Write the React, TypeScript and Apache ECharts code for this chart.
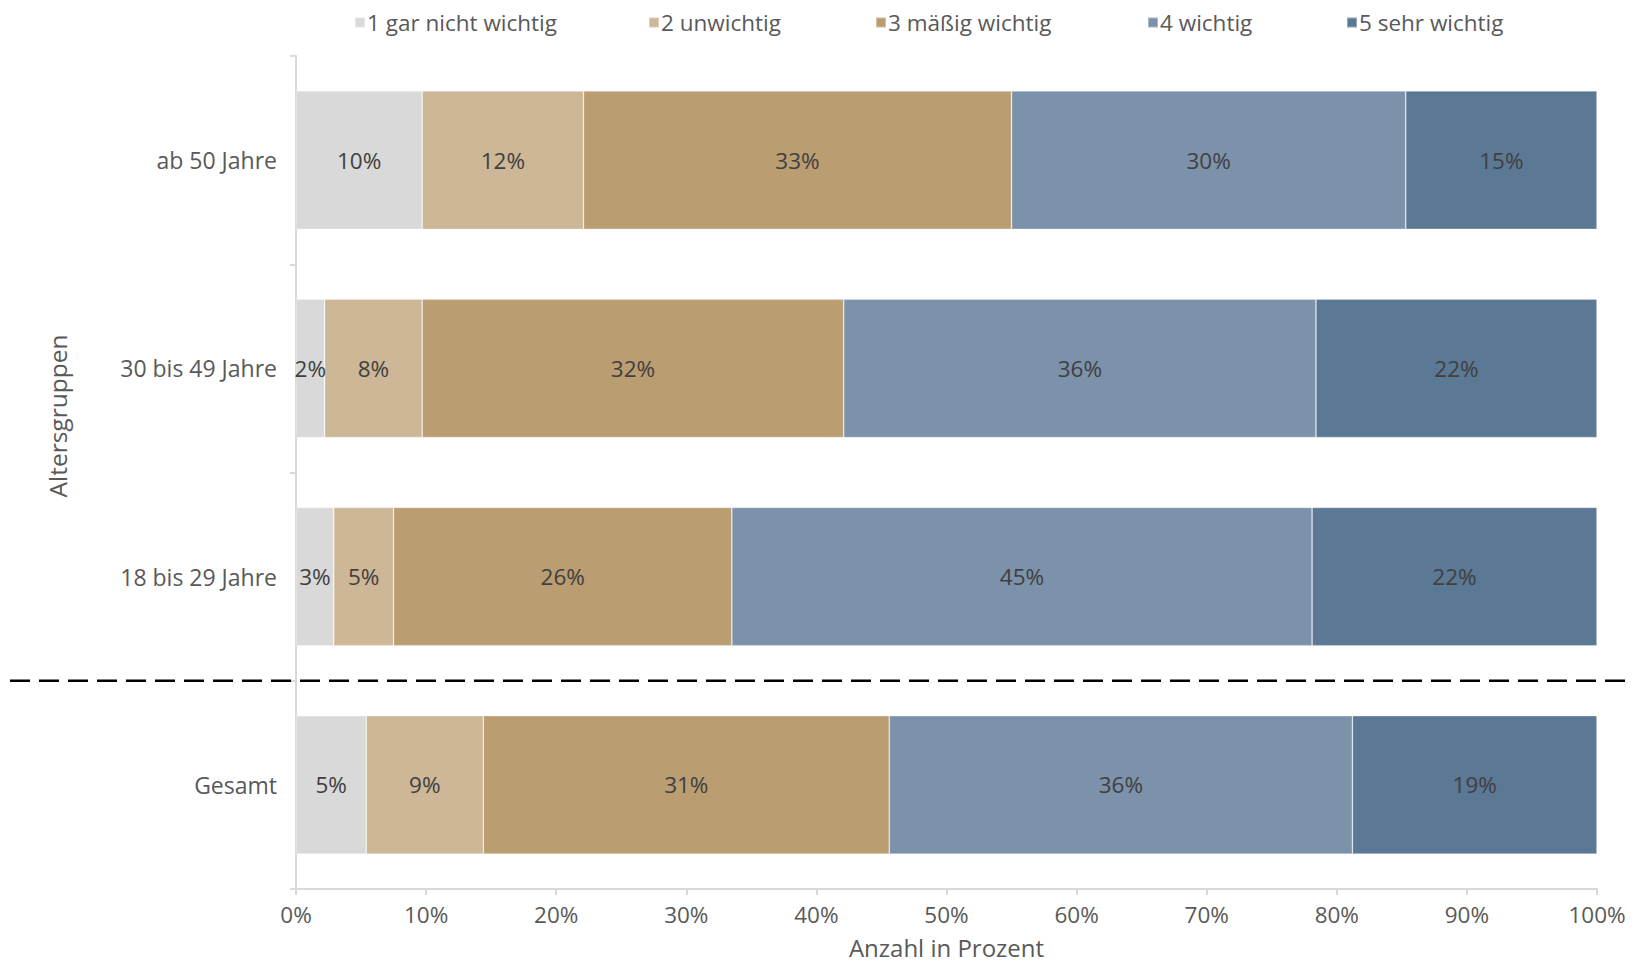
import React, { useEffect, useRef } from "react";
import * as echarts from "echarts";

const categories = ["Gesamt", "18 bis 29 Jahre", "30 bis 49 Jahre", "ab 50 Jahre"];
const seriesNames = ["1 gar nicht wichtig", "2 unwichtig", "3 mäßig wichtig", "4 wichtig", "5 sehr wichtig"];
const s1 = [5.4, 2.9, 2.2, 9.7];
const s2 = [9.0, 4.6, 7.5, 12.4];
const s3 = [31.2, 26.0, 32.4, 32.9];
const s4 = [35.6, 44.6, 36.3, 30.3];
const s5 = [18.8, 21.9, 21.6, 14.7];
const seriesValues = [s1, s2, s3, s4, s5];
const colors = ["#d9d9d9", "#cdb796", "#bb9d72", "#7c92ab", "#5b7894"];
const legendLeft = [354, 648, 875, 1147, 1346];

const FONT = "'Open Sans', 'Noto Sans', sans-serif";

export default function App() {
  const ref = useRef<HTMLDivElement>(null);
  useEffect(() => {
    document.body.style.margin = "0";
    const chart = echarts.init(ref.current!, null, { renderer: "svg" });
    const option: any = {
      animation: false,
      backgroundColor: "#ffffff",
      textStyle: { fontFamily: FONT },
      legend: seriesNames.map((n, i) => ({
        data: [n],
        left: legendLeft[i],
        top: 11,
        padding: 0,
        icon: "rect",
        itemWidth: 10,
        itemHeight: 10,
        itemGap: 4,
        selectedMode: false,
        textStyle: { fontFamily: FONT, fontSize: 22.5, color: "#595959", padding: [0, 0, 0, -3] },
      })),
      grid: { left: 296, right: 37, top: 56, bottom: 76, containLabel: false, outerBoundsMode: "none" },
      xAxis: {
        type: "value",
        min: 0,
        max: 100,
        interval: 10,
        name: "Anzahl in Prozent",
        nameLocation: "middle",
        nameGap: 45,
        nameTextStyle: { fontFamily: FONT, fontSize: 24, lineHeight: 26, color: "#595959" },
        axisLine: { show: true, lineStyle: { color: "#d9d9d9", width: 2 } },
        axisTick: { show: true, length: 6, lineStyle: { color: "#d9d9d9", width: 2 } },
        splitLine: { show: false },
        axisLabel: { formatter: "{value}%", fontFamily: FONT, fontSize: 22.5, color: "#595959", margin: 14 },
      },
      yAxis: {
        type: "category",
        data: categories,
        axisLine: { show: true, lineStyle: { color: "#d9d9d9", width: 2 } },
        axisTick: { show: true, length: 6, lineStyle: { color: "#d9d9d9", width: 2 } },
        axisLabel: { fontFamily: FONT, fontSize: 23, color: "#595959", margin: 19 },
      },
      series: seriesNames.map((n, i) => ({
        name: n,
        type: "bar",
        stack: "total",
        barCategoryGap: "33.6%",
        data: seriesValues[i],
        itemStyle: { color: colors[i], borderColor: "rgba(255,255,255,0.35)", borderWidth: 0.75 },
        label: {
          show: true,
          position: "inside",
          formatter: (p: any) => Math.round(p.value) + "%",
          fontFamily: FONT,
          fontSize: 22.5,
          color: "#404040",
        },
      })),
    };
    chart.setOption(option);
    const c0 = chart.convertToPixel({ yAxisIndex: 0 }, categories[0]) as number;
    const c1 = chart.convertToPixel({ yAxisIndex: 0 }, categories[1]) as number;
    const yLine = (c0 + c1) / 2;
    chart.setOption({
      graphic: [
        {
          type: "line",
          shape: { x1: 10, y1: yLine, x2: 1634, y2: yLine },
          style: { stroke: "#000000", lineWidth: 2.5, lineDash: [20, 9] },
          z: 100,
        },
        {
          type: "text",
          x: 57,
          y: 416,
          rotation: Math.PI / 2,
          style: {
            text: "Altersgruppen",
            fontFamily: FONT,
            fontSize: 24.5,
            fill: "#595959",
            align: "center",
            verticalAlign: "middle",
          },
        },
      ],
    });
    return () => chart.dispose();
  }, []);
  return <div ref={ref} style={{ width: 1634, height: 965 }} />;
}
